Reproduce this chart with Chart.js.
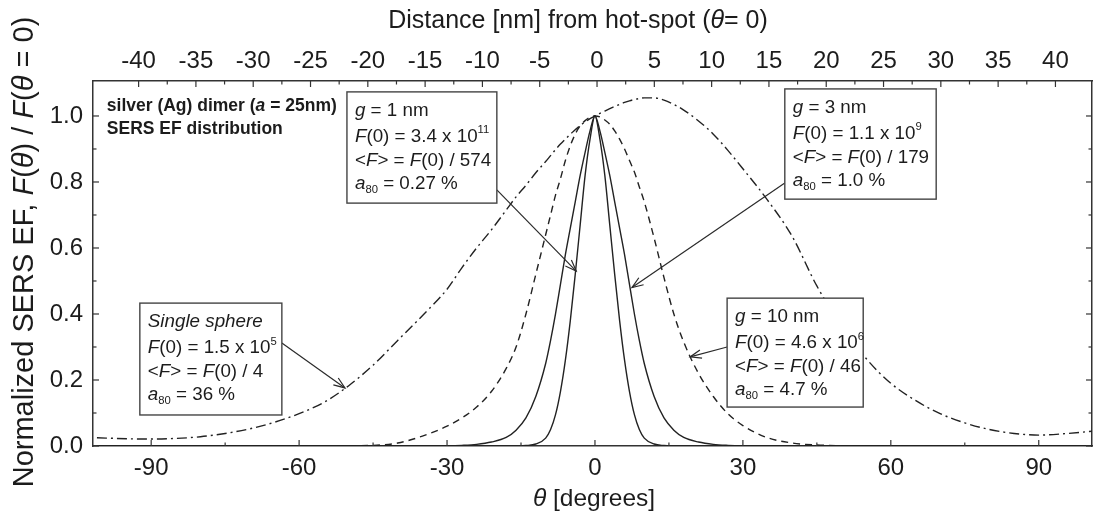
<!DOCTYPE html>
<html><head><meta charset="utf-8">
<script src="https://cdn.jsdelivr.net/npm/chart.js@4.4.1/dist/chart.umd.min.js"></script>
<style>html,body{margin:0;padding:0;background:#fff;overflow:hidden}canvas{display:block}</style>
</head><body>
<canvas id="c" width="1093" height="512"></canvas>
<script>
// ---------- data ----------
const thetas = [-101,-95,-90,-85,-80,-75,-70,-65,-60,-55,-50,-45,-40,-35,-30,-27,-24,-21,-18,-16,-14,-12,-10,-9,-8,-7,-6,-5,-4,-3,-2,-1,0,1,2,3,4,5,6,7,8,9,10,12,14,16,18,21,24,27,30,35,40,45,50,55,60,65,70,75,80,85,90,95,101];
const g1Values = [0,0,0,0,0,0,0,0,0,0,0,0,0,0,0, 0,0,0,0,0.0003,0.0015,0.006,0.024, 0.05,0.095,0.165,0.26,0.38,0.52,0.67,0.82,0.93, 1, 0.93,0.82,0.67,0.52,0.38,0.26,0.165,0.095,0.05,0.024, 0.006,0.0015,0.0003,0,0,0,0,0, 0,0,0,0,0,0,0,0,0,0,0,0, 0,0];
const g3Values = [0,0,0,0,0,0,0,0,0,0,0,0,0,0,0.0005, 0.002,0.005,0.012,0.026,0.048,0.085,0.15,0.25, 0.32,0.40,0.49,0.58,0.66,0.74,0.82,0.89,0.955, 1, 0.955,0.89,0.82,0.74,0.66,0.58,0.49,0.40,0.32,0.25, 0.15,0.085,0.048,0.026,0.012,0.005,0.002,0.0005, 0,0,0,0,0,0,0,0,0,0,0,0, 0,0];
const g10Values = [0,0,0,0,0,0,0,0,0,0.0005,0.001,0.002,0.009,0.03,0.06, 0.085,0.118,0.165,0.235,0.30,0.40,0.52,0.64, 0.70,0.76,0.81,0.865,0.91,0.945,0.97,0.986,0.996, 1, 0.997,0.988,0.975,0.955,0.93,0.90,0.865,0.83,0.785,0.74, 0.63,0.51,0.40,0.315,0.22,0.15,0.097,0.062, 0.025,0.009,0.003,0.001,0.0005,0,0,0,0,0,0,0, 0,0];
const sphereValues = [0.025,0.022,0.021,0.023,0.028,0.038,0.052,0.072,0.098,0.132,0.182,0.245,0.32,0.395,0.475, 0.54,0.60,0.655,0.715,0.755,0.79,0.828,0.862, 0.88,0.898,0.915,0.93,0.945,0.958,0.971,0.982,0.992, 1, 1.008,1.015,1.022,1.029,1.035,1.041,1.046,1.05,1.053,1.055, 1.055,1.048,1.035,1.018,0.985,0.945,0.895,0.84, 0.745,0.635,0.485,0.365,0.265,0.19,0.138,0.098,0.07,0.05,0.038,0.033, 0.037,0.045];
const bottomTicks = [-90,-60,-30,0,30,60,90];
const topTicks = [-40,-35,-30,-25,-20,-15,-10,-5,0,5,10,15,20,25,30,35,40];
const yTicks = [0,0.2,0.4,0.6,0.8,1.0];

// ---------- axis ranges ----------
const X_MIN = -101.8, X_MAX = 100.8;
const TOP_MIN = -43.98, TOP_MAX = 43.19;
const Y_MIN = 0, Y_MAX = 1.106;

const FAMILY = '"Liberation Sans", Arial, Helvetica, sans-serif';
const INK = '#1c1c1c';

// ---------- annotations (data coordinates) ----------
const boxes = [
  {x0:-50.3, y0:1.073, x1:-19.9, y1:0.736, lines:[
    [['g','i'],[' = 1 nm','']],
    [['F','i'],['(0) = 3.4 x 10',''],['11','^']],
    [['<',''],['F','i'],['> = ',''],['F','i'],['(0) / 574','']],
    [['a','i'],['80','_'],[' = 0.27 %','']]]},
  {x0:38.5, y0:1.082, x1:69.2, y1:0.748, lines:[
    [['g','i'],[' = 3 nm','']],
    [['F','i'],['(0) = 1.1 x 10',''],['9','^']],
    [['<',''],['F','i'],['> = ',''],['F','i'],['(0) / 179','']],
    [['a','i'],['80','_'],[' = 1.0 %','']]]},
  {x0:26.8, y0:0.448, x1:54.4, y1:0.118, lines:[
    [['g','i'],[' = 10 nm','']],
    [['F','i'],['(0) = 4.6 x 10',''],['6','^']],
    [['<',''],['F','i'],['> = ',''],['F','i'],['(0) / 46','']],
    [['a','i'],['80','_'],[' = 4.7 %','']]]},
  {x0:-92.3, y0:0.433, x1:-63.5, y1:0.094, lines:[
    [['Single sphere','i']],
    [['F','i'],['(0) = 1.5 x 10',''],['5','^']],
    [['<',''],['F','i'],['> = ',''],['F','i'],['(0) / 4','']],
    [['a','i'],['80','_'],[' = 36 %','']]]}
];
const arrows = [
  {from:[-19.9,0.776], to:[-3.8,0.53]},
  {from:[38.5,0.797], to:[7.5,0.48]},
  {from:[26.8,0.30], to:[19.3,0.27]},
  {from:[-63.5,0.312], to:[-50.7,0.176]}
];
const headerLabel = {x:-99.0, y:1.015, lines:[
  [['silver (Ag) dimer (','b'],['a','bi'],[' = 25nm)','b']],
  [['SERS EF distribution','b']]]};

// ---------- rich text helpers ----------
function fontOf(style, size){
  const s = (style.includes('^')||style.includes('_')) ? size*0.6 : size;
  return (style.includes('i')?'italic ':'') + (style.includes('b')?'bold ':'') + s.toFixed(2) + 'px ' + FAMILY;
}
function richWidth(ctx, segs, size){
  let w=0; for (const [t,st] of segs){ ctx.font=fontOf(st,size); w+=ctx.measureText(t).width; } return w;
}
function drawRich(ctx, segs, x, y, size, align){
  if (align==='center') x -= richWidth(ctx, segs, size)/2;
  ctx.textBaseline='alphabetic'; ctx.textAlign='left';
  for (const [t,st] of segs){
    ctx.font=fontOf(st,size);
    let dy=0; if (st.includes('^')) dy=-size*0.45; if (st.includes('_')) dy=size*0.22;
    ctx.fillText(t, x, y+dy);
    x += ctx.measureText(t).width;
  }
}

function series(vals){ return thetas.map((t,i)=>({x:t, y:vals[i]})); }

// ---------- plugins ----------
const inwardTicks = {
  id:'inwardTicks',
  afterDatasetsDraw(chart){
    const {ctx, chartArea:a, scales} = chart;
    ctx.save(); ctx.strokeStyle='#333'; ctx.lineWidth=1.2;
    const ln=(x1,y1,x2,y2)=>{ctx.beginPath();ctx.moveTo(x1,y1);ctx.lineTo(x2,y2);ctx.stroke();};
    const MAJ=6, MIN=3.5;
    bottomTicks.forEach((v,i)=>{
      const p=scales.x.getPixelForValue(v); ln(p,a.bottom,p,a.bottom-MAJ);
      if(i<bottomTicks.length-1){const q=scales.x.getPixelForValue((v+bottomTicks[i+1])/2); ln(q,a.bottom,q,a.bottom-MIN);}
    });
    topTicks.forEach((v,i)=>{
      const p=scales.xTop.getPixelForValue(v); ln(p,a.top,p,a.top+MAJ);
      if(i<topTicks.length-1){const q=scales.xTop.getPixelForValue((v+topTicks[i+1])/2); ln(q,a.top,q,a.top+MIN);}
    });
    yTicks.forEach((v,i)=>{
      const p=scales.y.getPixelForValue(v);
      ln(a.left,p,a.left+MAJ,p); ln(a.right,p,a.right-MAJ,p);
      if(i<yTicks.length-1){const q=scales.y.getPixelForValue((v+yTicks[i+1])/2); ln(a.left,q,a.left+MIN,q); ln(a.right,q,a.right-MIN,q);}
    });
    ctx.restore();
  }
};

const annotations = {
  id:'annotations',
  afterDatasetsDraw(chart){
    const {ctx, scales} = chart;
    const X=v=>scales.x.getPixelForValue(v), Y=v=>scales.y.getPixelForValue(v);
    ctx.save();
    ctx.strokeStyle='#2a2a2a'; ctx.lineWidth=1.2;
    for (const ar of arrows){
      const x1=X(ar.from[0]), y1=Y(ar.from[1]), x2=X(ar.to[0]), y2=Y(ar.to[1]);
      ctx.beginPath(); ctx.moveTo(x1,y1); ctx.lineTo(x2,y2); ctx.stroke();
      const ang=Math.atan2(y1-y2,x1-x2), L=12, h=0.36;
      ctx.beginPath();
      ctx.moveTo(x2+L*Math.cos(ang+h), y2+L*Math.sin(ang+h));
      ctx.lineTo(x2,y2);
      ctx.lineTo(x2+L*Math.cos(ang-h), y2+L*Math.sin(ang-h));
      ctx.stroke();
    }
    const base=[24,50,74,97];
    for (const b of boxes){
      const l=X(b.x0), t=Y(b.y0), r=X(b.x1), bt=Y(b.y1);
      ctx.fillStyle='#fff'; ctx.fillRect(l,t,r-l,bt-t);
      ctx.strokeStyle='#444'; ctx.lineWidth=1.4; ctx.strokeRect(l,t,r-l,bt-t);
      ctx.fillStyle=INK;
      b.lines.forEach((segs,i)=>drawRich(ctx, segs, l+8, t+base[i], 18.8, 'left'));
    }
    ctx.fillStyle=INK;
    headerLabel.lines.forEach((segs,i)=>drawRich(ctx, segs, X(headerLabel.x), Y(headerLabel.y)+i*23, 17.5, 'left'));
    ctx.restore();
  }
};

const titles = {
  id:'titles',
  afterDraw(chart){
    const {ctx} = chart;
    ctx.save(); ctx.fillStyle=INK;
    drawRich(ctx, [['Distance [nm] from hot-spot (',''],['\u03B8','i'],['= 0)','']], 578, 28, 25, 'center');
    drawRich(ctx, [['\u03B8','i'],[' [degrees]','']], 594, 506, 24.5, 'center');
    ctx.translate(33, 252); ctx.rotate(-Math.PI/2);
    drawRich(ctx, [['Normalized SERS EF, ',''],['F','i'],['(',''],['\u03B8','i'],[') / ',''],['F','i'],['(',''],['\u03B8','i'],[' = 0)','']], 0, 0, 29, 'center');
    ctx.restore();
  }
};

// ---------- chart ----------
const lineBase = {pointRadius:0, borderColor:'#222', borderWidth:1.4, fill:false, cubicInterpolationMode:'monotone'};
const tickFont = {family:FAMILY, size:24};
const noGrid = {display:false, drawTicks:false};
new Chart(document.getElementById('c'), {
  type:'line',
  data:{datasets:[
    Object.assign({label:'g = 1 nm', data:series(g1Values)}, lineBase),
    Object.assign({label:'g = 3 nm', data:series(g3Values)}, lineBase),
    Object.assign({label:'g = 10 nm', data:series(g10Values), borderDash:[7,5]}, lineBase),
    Object.assign({label:'Single sphere', data:series(sphereValues), borderDash:[10,4,2,4]}, lineBase)
  ]},
  options:{
    responsive:false, animation:false, events:[], devicePixelRatio:1,
    layout:{padding:0},
    plugins:{legend:{display:false}, tooltip:{enabled:false}},
    scales:{
      x:{type:'linear', position:'bottom', min:X_MIN, max:X_MAX,
         afterBuildTicks:s=>{s.ticks=bottomTicks.map(v=>({value:v}));},
         afterFit:s=>{s.height=66;},
         ticks:{font:tickFont, color:INK, padding:8, maxRotation:0, autoSkip:false},
         grid:noGrid, border:{display:true, color:'#333', width:1.5}},
      xTop:{type:'linear', position:'top', min:TOP_MIN, max:TOP_MAX,
         afterBuildTicks:s=>{s.ticks=topTicks.map(v=>({value:v}));},
         afterFit:s=>{s.height=81;},
         ticks:{font:tickFont, color:INK, padding:5, maxRotation:0, autoSkip:false},
         grid:noGrid, border:{display:true, color:'#333', width:1.5}},
      y:{type:'linear', position:'left', min:Y_MIN, max:Y_MAX,
         afterBuildTicks:s=>{s.ticks=yTicks.map(v=>({value:v}));},
         afterFit:s=>{s.width=93;},
         ticks:{font:tickFont, color:INK, padding:10, callback:v=>Number(v).toFixed(1)},
         grid:noGrid, border:{display:true, color:'#333', width:1.5}},
      y2:{type:'linear', position:'right', min:Y_MIN, max:Y_MAX,
         afterFit:s=>{s.width=1;},
         ticks:{display:false},
         grid:noGrid, border:{display:true, color:'#333', width:1.5}}
    }
  },
  plugins:[inwardTicks, annotations, titles]
});
</script>
</body></html>
